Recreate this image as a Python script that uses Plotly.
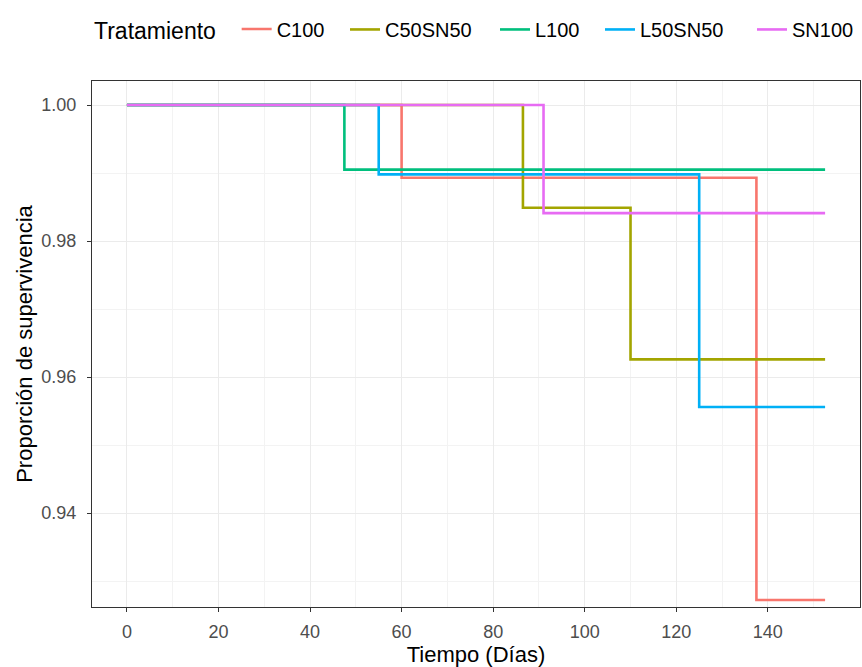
import plotly.graph_objects as go

# Kaplan-Meier style survival steps per treatment
groups = ["C100", "C50SN50", "L100", "L50SN50", "SN100"]
colors = ["#F8766D", "#A3A500", "#00BF7D", "#00B0F6", "#E76BF3"]

time_C100 = [0, 60, 137.5, 152.5]
surv_C100 = [1.0, 0.9893, 0.9272, 0.9272]

time_C50SN50 = [0, 86.5, 110, 152.5]
surv_C50SN50 = [1.0, 0.9849, 0.9626, 0.9626]

time_L100 = [0, 47.5, 152.5]
surv_L100 = [1.0, 0.9905, 0.9905]

time_L50SN50 = [0, 55, 125, 152.5]
surv_L50SN50 = [1.0, 0.9898, 0.9556, 0.9556]

time_SN100 = [0, 91, 152.5]
surv_SN100 = [1.0, 0.9841, 0.9841]

times = [time_C100, time_C50SN50, time_L100, time_L50SN50, time_SN100]
survs = [surv_C100, surv_C50SN50, surv_L100, surv_L50SN50, surv_SN100]

x_ticks = [0, 20, 40, 60, 80, 100, 120, 140]
y_ticks = [0.94, 0.96, 0.98, 1.00]

FONT = "Liberation Sans, Arial, sans-serif"

# legend key placement (pixel x of each key's left edge)
legend_px = [92, 345, 495, 600, 752]
ML, PW = 92, 768

fig = go.Figure()
for i, (name, col, t, s) in enumerate(zip(groups, colors, times, survs)):
    fig.add_trace(go.Scatter(
        x=t, y=s, mode="lines", name=name, showlegend=True,
        line=dict(color=col, width=2.6, shape="hv"),
        legend="legend" if i == 0 else f"legend{i+1}",
    ))

legend_common = dict(
    orientation="h", xanchor="left", y=1.098, yanchor="middle",
    font=dict(size=20, color="black"), bgcolor="rgba(0,0,0,0)",
)
layout_legends = {}
for i, px in enumerate(legend_px):
    key = "legend" if i == 0 else f"legend{i+1}"
    d = dict(legend_common, x=(px - ML) / PW)
    if i == 0:
        d["title"] = dict(text="Tratamiento\u00a0\u00a0", font=dict(size=23, color="black"), side="left")
    layout_legends[key] = d

fig.update_layout(
    width=862, height=667,
    showlegend=True,
    margin=dict(l=ML, r=2, t=81, b=60),
    paper_bgcolor="white", plot_bgcolor="white",
    font=dict(family=FONT, color="black"),
    xaxis=dict(
        range=[-7.625, 160.125],
        tickmode="array", tickvals=x_ticks, ticktext=[str(v) for v in x_ticks],
        ticks="outside", ticklen=4, tickcolor="#333333", tickwidth=1,
        tickfont=dict(size=18, color="#4D4D4D"),
        ticklabelstandoff=4,
        showgrid=True, gridcolor="#EBEBEB", gridwidth=1.2,
        minor=dict(tickvals=[10, 30, 50, 70, 90, 110, 130, 150], showgrid=True,
                   gridcolor="#F3F3F3", gridwidth=0.8, ticks=""),
        showline=True, linecolor="#333333", linewidth=1.2, mirror=True,
        zeroline=False,
        title=dict(text="Tiempo (Días)", font=dict(size=22, color="black"), standoff=4),
    ),
    yaxis=dict(
        range=[0.92618, 1.00353],
        tickmode="array", tickvals=y_ticks, ticktext=[f"{v:.2f}" for v in y_ticks],
        ticks="outside", ticklen=4, tickcolor="#333333", tickwidth=1,
        tickfont=dict(size=18, color="#4D4D4D"),
        ticklabelstandoff=7,
        showgrid=True, gridcolor="#EBEBEB", gridwidth=1.2,
        minor=dict(tickvals=[0.93, 0.95, 0.97, 0.99], showgrid=True,
                   gridcolor="#F3F3F3", gridwidth=0.8, ticks=""),
        showline=True, linecolor="#333333", linewidth=1.2, mirror=True,
        zeroline=False,
        title=dict(text="Proporción de supervivencia", font=dict(size=22, color="black"), standoff=2),
    ),
    **layout_legends,
)

fig.write_html("out.html")
